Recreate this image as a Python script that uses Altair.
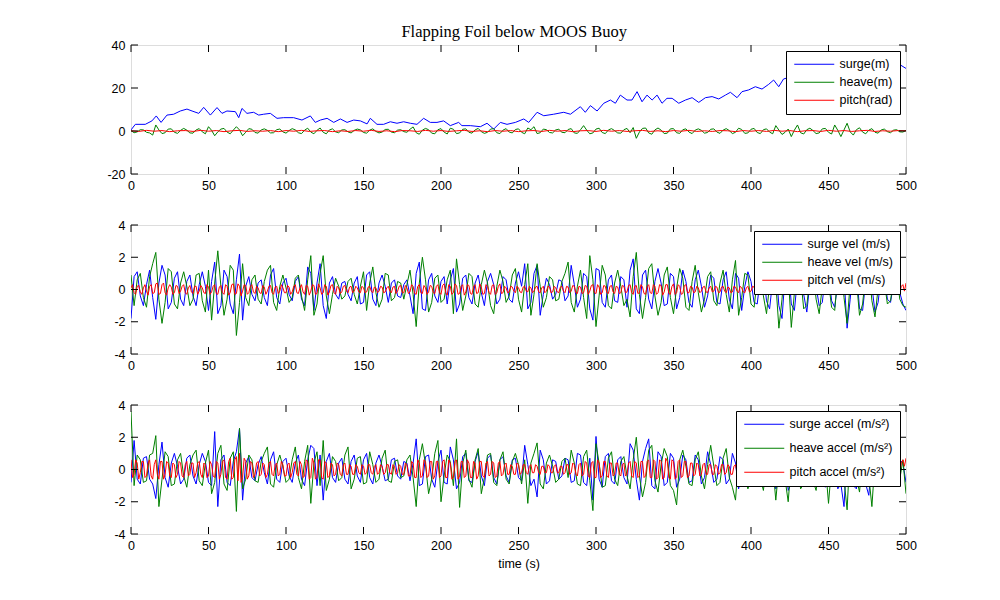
import altair as alt
import pandas as pd

# ---------------- data ----------------
# Panel 1: surge position (m), irregular sample times
surge_t = [0, 2.8, 9.2, 13.5, 16.3, 19.4, 23.2, 27.5, 31.8, 36.1,
           39.4, 43.7, 46.9, 51.2, 55.5, 58.7, 61.9, 67.3, 69.5, 71.6,
           74.8, 79.1, 82.4, 85.6, 89.9, 94.2, 98.5, 104.9, 110.3, 115.7,
           118.9, 122.2, 126.5, 130.8, 135.1, 139.4, 143.7, 148.0, 152.3, 154.4,
           158.7, 163.0, 167.3, 171.6, 175.9, 180.2, 184.5, 188.8, 193.1, 197.4,
           201.7, 206.0, 211.4, 213.5, 218.9, 225.4, 229.7, 234.0, 238.3, 242.6,
           248.0, 253.4, 256.6, 262.0, 266.3, 272.7, 279.2, 283.5, 289.9, 293.1,
           296.4, 300.7, 305.0, 309.3, 312.5, 315.7, 320.0, 323.2, 326.5, 329.7,
           332.9, 336.2, 339.4, 342.6, 345.8, 349.1, 353.4, 357.7, 362.0, 366.3,
           370.6, 374.9, 379.2, 383.5, 386.7, 391.0, 394.2, 398.5, 402.8, 407.1,
           411.4, 414.6, 417.9, 421.0, 425, 430, 435, 440, 445, 450,
           455, 460, 465, 470, 475, 480, 485, 490, 496.4, 500]
surge_m = [0.5, 3.1, 3.1, 4.7, 7.0, 4.0, 7.4, 7.8, 9.3, 10.2,
           9.3, 8.2, 11.0, 7.4, 10.9, 8.2, 9.3, 9.0, 6.2, 10.5,
           8.2, 8.7, 7.4, 7.8, 8.2, 5.9, 6.2, 6.2, 5.1, 7.0,
           4.0, 5.1, 5.9, 4.0, 5.6, 4.0, 5.1, 4.7, 3.3, 5.9,
           3.1, 3.1, 4.3, 3.6, 4.3, 3.6, 3.1, 5.9, 4.0, 4.0,
           4.7, 2.5, 4.0, 2.5, 2.5, 2.0, 3.6, 0.9, 4.0, 3.1,
           4.0, 5.6, 4.0, 8.7, 7.1, 7.8, 8.7, 7.8, 11.3, 8.7,
           11.8, 9.3, 12.9, 14.4, 12.9, 16.7, 14.4, 14.4, 18.3, 13.6,
           16.7, 14.4, 16.7, 12.9, 15.2, 15.2, 12.9, 14.4, 15.5, 13.3,
           15.5, 16.0, 14.9, 16.7, 18.0, 15.5, 18.3, 19.1, 20.6, 19.5,
           21.7, 23.7, 20.6, 24.2, 25.0, 24.0, 26.5, 25.5, 27.0, 26.0,
           28.0, 27.0, 28.5, 28.0, 30.0, 29.0, 30.5, 30.0, 30.7, 29.1]

# heave position (m), one value every 2 s from t=0
heave_m = [0.2, -0.8, -0.4, 0.6, 0.5, -0.6, -0.9, -1.9, 2.8, 0.5,
           -1.2, -0.8, 0.9, 1.0, -0.6, -1.1, 0.3, 1.2, 0.4, -0.9,
           -1.0, 0.5, 1.1, -0.4, -1.3, 2.0, 0.3, -2.2, -0.4, 0.9,
           1.2, -0.5, -1.3, 0.4, 2.0, 0.5, -2.2, -0.6, 1.1, 0.8,
           -0.7, -1.0, 0.5, 1.0, 0.3, -0.9, -0.8, 0.6, 0.9, -0.4,
           -1.0, 0.2, 1.1, 0.5, -0.8, -1.2, 0.4, 1.3, -0.5, -1.3,
           0.3, 1.4, -0.6, -1.3, 0.5, 1.0, -0.4, -0.8, 0.5, 0.6,
           -0.4, -0.9, 0.3, 0.9, 0.5, -0.7, -1.0, 0.4, 1.0, -0.2,
           -0.9, -0.5, 0.7, 0.8, -0.5, -0.8, 0.4, 0.6, -0.3, -0.6,
           0.8, 1.9, -0.8, -1.5, 0.4, 1.2, 0.6, -1.0, -1.3, 0.6,
           1.1, -0.5, -1.4, 1.3, 0.8, -1.2, -0.9, 0.8, 1.0, -0.6,
           -1.0, 0.5, 1.2, -0.3, -1.1, -0.6, 0.9, 1.1, -0.8, -1.2,
           0.4, 1.1, -0.5, -0.9, 0.7, 1.0, -0.6, -1.3, 1.4, 0.6,
           2.0, -1.2, -0.8, 0.9, 0.6, -0.7, -0.9, 0.5, 0.8, -0.6,
           -0.8, 0.7, 1.1, -0.9, -1.1, 0.6, 2.5, 0.4, -1.3, -0.9,
           0.9, 1.3, -0.7, -1.2, 0.5, 1.1, 0.2, -0.9, -1.0, 0.6,
           1.2, -0.8, 1.6, -3.4, -0.5, 1.2, 1.4, -0.9, -1.5, 0.5,
           1.4, 0.4, -1.2, -1.0, 1.0, 1.1, -0.8, -1.1, 0.6, 1.0,
           -0.5, -1.2, 0.4, 1.0, 0.3, -1.0, -0.7, 0.8, 1.0, -0.5,
           -1.1, 0.4, 1.1, 0.2, -1.2, -0.6, 1.3, 0.7, -1.1, -0.9,
           0.8, 1.2, -0.7, -1.2, 0.6, 1.0, -0.5, -1.3, 2.5, 0.4,
           -1.6, -0.6, 0.9, -2.6, 0.4, 2.8, -0.8, -1.4, 0.6, 1.3,
           0.2, -1.2, -0.9, 1.0, 1.2, -0.6, -1.4, 2.8, 0.3, -2.6,
           0.5, 3.6, -0.4, -1.9, 0.6, 1.5, -0.5, -1.3, 0.4, 1.1,
           -0.6, -1.0, 0.5, 0.9, -0.3, -0.8, 0.4, 0.6, -0.4, -0.5,
           0.3]

# pitch (rad), one value every 5 s
pitch_rad = [0.1, -0.2, 0.3, -0.1, 0.2, -0.3, 0.1, 0.2, -0.2, 0.3,
             -0.1, 0.2, -0.3, 0.1, 0.3, -0.2, 0.1, -0.1, 0.2, -0.3,
             0.2, -0.1, 0.3, -0.2, 0.1, 0.2, -0.3, 0.1, -0.2, 0.2,
             -0.1, 0.3, -0.2, 0.1, -0.3, 0.2, 0.1, -0.2, 0.3, -0.1,
             0.2, -0.2, 0.1, 0.3, -0.2, 0.1, -0.3, 0.2, -0.1, 0.2,
             -0.3, 0.1, 0.2, -0.2, 0.3, -0.1, 0.2, -0.3, 0.1, 0.2,
             -0.2, 0.3, -0.1, 0.2, -0.2, 0.1, 0.3, -0.2, 0.1, -0.3,
             0.2, -0.1, 0.3, -0.2, 0.1, -0.2, 0.2, 0.1, -0.3, 0.2,
             -0.1, 0.2, -0.2, 0.3, -0.1, 0.2, -0.3, 0.1, 0.2, -0.2,
             0.3, -0.1, 0.2, -0.2, 0.1, 0.3, -0.2, 0.1, -0.1, 0.2,
             0.1]

# Panel 2: velocities, every 2 s (surge, heave) and every 1 s (pitch)
surge_vel = [-1.8, 0.8, 1.1, -0.4, -1.0, 0.3, 1.2, -0.5, -1.85, 0.4,
             1.5, 0.9, -1.2, -0.8, 0.7, 1.1, -0.6, -1.0, 0.5, 0.9,
             -0.4, -1.0, 0.3, 1.1, 0.2, -1.3, 0.5, 1.7, -1.5, -1.0,
             1.2, 0.8, -0.9, -1.5, 0.6, 2.2, -1.9, 0.2, 0.8, -0.3,
             -0.7, 0.4, 0.6, -0.5, -1.0, 0.9, 1.3, -0.5, -0.9, 0.4,
             0.7, -0.3, -0.7, 0.5, 0.8, -0.6, -1.0, 1.4, 1.0, -1.3,
             0.4, 1.6, -1.0, -1.8, 0.4, 0.8, -0.3, -0.6, 0.4, 0.5,
             -0.3, -0.7, 0.4, 0.8, -0.9, -0.8, 0.9, 1.1, -0.6, -1.0,
             0.4, 0.9, 0.2, -0.8, 0.4, 0.6, -0.4, -0.5, 0.3, 0.6,
             -0.4, -1.5, 1.0, 1.7, -1.2, -1.3, 0.6, 1.0, -0.4, -0.8,
             0.5, 0.8, -0.9, 0.6, 1.3, -1.4, -0.9, 0.7, 0.9, -0.5,
             -0.9, 0.4, 0.9, -0.2, -1.0, 0.5, 1.0, 0.3, -0.9, -0.6,
             0.8, 0.6, -0.6, -0.8, 0.4, 1.1, 0.2, 1.6, -1.2, -0.8,
             1.0, 1.5, -1.6, -0.3, 0.7, 0.3, -0.6, -0.3, 0.6, 0.5,
             -0.7, -0.4, 1.5, 0.3, -1.1, -0.6, 1.0, 0.8, -1.2, -1.9,
             1.3, 1.2, -0.8, -1.1, 0.6, 0.9, -0.7, -0.8, 0.8, 0.6,
             -1.1, 1.2, 1.9, -1.2, -1.5, 0.9, 1.2, -0.6, -1.2, 0.5,
             1.3, 0.4, -1.0, -0.9, 1.0, 0.8, -1.2, -0.5, 1.2, 0.5,
             -0.8, -1.1, 0.6, 1.2, 0.2, -1.1, -0.4, 0.9, 0.7, -0.8,
             -0.9, 0.6, 1.1, -0.6, -1.2, 1.0, 0.7, -1.3, 0.2, 1.1,
             0.5, -0.8, -0.9, 0.7, 1.2, -0.7, -1.2, 0.6, 1.4, -1.0,
             -1.8, 0.9, 1.6, -0.9, -1.3, 0.7, 1.2, -0.3, -1.4, 0.4,
             1.1, 0.2, -1.0, -0.8, 0.9, 1.1, -0.7, -1.1, 0.5, 1.6,
             0.8, -2.4, -0.6, 1.5, 1.3, -1.2, -1.3, 0.5, 1.1, 0.2,
             -1.4, -0.8, 0.9, 0.8, -0.6, -0.8, 0.4, 0.7, -0.2, -0.9,
             -1.3]

heave_vel = [0.9, -1.0, 0.6, 1.0, -0.5, -1.1, 0.8, 1.6, 2.3, -0.6,
             -2.1, -0.8, 1.3, 1.1, -0.9, -1.2, 0.4, 1.1, 0.2, -1.0,
             -0.6, 0.9, 1.0, -0.7, -1.4, 1.2, -1.9, 0.4, 2.4, 0.2,
             -1.6, -0.6, 1.5, 1.2, -2.85, -0.8, 1.6, -0.5, -1.0, 0.6,
             0.9, -0.6, -0.9, 0.5, 1.2, 1.5, -0.8, -1.3, 0.2, 0.9,
             0.1, -0.8, -0.5, 0.7, 0.9, -0.4, -1.3, 0.6, 2.1, -1.6,
             -0.9, 1.0, 2.1, -0.4, -1.5, -0.3, 0.7, 0.2, -0.6, -0.4,
             0.5, 0.7, -0.3, -0.9, 0.2, 1.1, -1.3, 0.4, 1.4, -0.2,
             -1.1, -0.6, 1.0, 0.9, -0.7, -0.5, 0.5, 0.4, -0.6, 0.3,
             1.2, -0.3, -2.3, 0.4, 2.0, 0.6, -1.4, -0.8, 0.7, 0.9,
             -0.8, -0.6, 0.6, 1.2, -1.5, 1.9, 0.3, -1.3, -0.4, 1.0,
             0.8, -0.9, -1.1, 0.3, 1.2, 0.4, -1.0, -1.5, 0.2, 1.2,
             0.5, -0.8, -0.4, 0.9, 1.3, -0.6, -1.4, 0.3, 1.6, -1.6,
             -0.3, 1.6, 0.2, -1.1, -0.5, 0.8, 0.6, -0.7, -0.6, 0.5,
             1.0, 1.7, -0.8, -1.4, 0.2, 1.2, -0.5, -1.8, 2.1, 0.6,
             -2.3, -0.4, 1.5, 0.9, -1.0, -1.2, 0.4, 1.2, 0.2, -1.0,
             -0.6, -1.7, 0.8, 2.3, -0.3, -1.8, -0.5, 1.3, 1.6, -0.4,
             -1.6, -0.8, 0.9, 1.4, -0.5, -1.5, 0.1, 1.3, 0.7, -1.1,
             -1.3, 0.5, 1.5, -0.2, -1.4, -0.6, 0.8, 1.1, -0.7, -1.0,
             0.4, 1.2, -0.3, -1.4, 0.6, 1.8, -1.6, -0.5, 1.0, 0.9,
             -0.9, -1.1, 0.6, 1.3, -0.4, -1.5, 0.3, 1.9, 0.4, -2.4,
             -0.6, 1.8, 1.0, -2.35, -0.2, 1.6, 0.8, -1.2, -1.0, 0.8,
             1.3, -0.6, -1.5, 0.2, 1.4, 0.5, -1.1, -1.3, 0.9, 1.9,
             -0.5, -2.1, 0.4, 2.0, 0.6, -1.6, -0.9, 1.0, 1.4, -0.7,
             -1.7, 0.1, 1.2, 0.5, -0.9, -0.7, 0.6, 0.9, -0.6, -1.0,
             -1.1]

pitch_vel = [0.1, 0.3, -0.2, -0.3, 0.2, 0.25, -0.15, -0.3, 0.1, 0.3, -0.1, -0.35, 0.2, 0.3, -0.25, -0.2, 0.35, 0.4, -0.3, -0.25,
             0.3, 0.4, -0.2, -0.35, 0.1, 0.3, 0.15, -0.3, -0.2, 0.25, 0.2, -0.25, -0.1, 0.2, 0.3, -0.2, -0.3, 0.1, 0.25, -0.15,
             -0.25, 0.2, 0.2, -0.3, -0.1, 0.25, 0.1, -0.2, -0.25, 0.3, 0.15, -0.3, -0.15, 0.2, 0.3, -0.25, -0.3, 0.15, 0.25, -0.2,
             -0.3, 0.3, 0.2, -0.35, -0.2, 0.3, 0.35, -0.3, -0.25, 0.35, 0.2, -0.4, -0.1, 0.3, 0.25, -0.3, -0.2, 0.2, 0.3, -0.15,
             -0.25, 0.2, 0.1, -0.2, -0.25, 0.25, 0.15, -0.3, -0.1, 0.2, 0.25, -0.2, -0.3, 0.15, 0.2, -0.25, -0.1, 0.3, 0.1, -0.2,
             -0.2, 0.25, 0.15, -0.3, -0.15, 0.2, 0.3, -0.2, -0.25, 0.1, 0.3, -0.15, -0.3, 0.25, 0.2, -0.35, -0.1, 0.3, 0.25, -0.3,
             -0.25, 0.35, 0.1, -0.3, -0.2, 0.3, 0.2, -0.35, -0.15, 0.25, 0.3, -0.2, -0.3, 0.2, 0.1, -0.25, -0.15, 0.2, 0.25, -0.1,
             -0.2, 0.15, 0.2, -0.2, -0.1, 0.2, 0.1, -0.15, -0.2, 0.2, 0.1, -0.2, -0.15, 0.15, 0.2, -0.1, -0.2, 0.15, 0.1, -0.2,
             -0.1, 0.2, 0.15, -0.2, -0.15, 0.1, 0.2, -0.1, -0.2, 0.15, 0.2, -0.25, -0.1, 0.2, 0.25, -0.2, -0.2, 0.25, 0.1, -0.25,
             -0.15, 0.3, 0.2, -0.25, -0.3, 0.2, 0.3, -0.2, -0.25, 0.25, 0.1, -0.3, -0.15, 0.25, 0.2, -0.2, -0.25, 0.2, 0.3, -0.2,
             -0.3, 0.25, 0.35, -0.2, -0.35, 0.3, 0.2, -0.3, -0.2, 0.35, 0.25, -0.3, -0.25, 0.2, 0.3, -0.35, -0.15, 0.3, 0.25, -0.25,
             -0.3, 0.2, 0.3, -0.25, -0.2, 0.35, 0.15, -0.3, -0.25, 0.3, 0.2, -0.2, -0.3, 0.25, 0.3, -0.3, -0.2, 0.2, 0.35, -0.25,
             -0.2, 0.2, 0.1, -0.2, -0.15, 0.2, 0.15, -0.1, -0.2, 0.2, 0.1, -0.15, -0.2, 0.15, 0.2, -0.1, -0.15, 0.2, 0.1, -0.2,
             -0.1, 0.15, 0.2, -0.15, -0.2, 0.1, 0.2, -0.2, -0.1, 0.2, 0.15, -0.2, -0.15, 0.2, 0.1, -0.15, -0.2, 0.15, 0.2, -0.1,
             -0.2, 0.2, 0.15, -0.2, -0.1, 0.25, 0.2, -0.2, -0.25, 0.2, 0.15, -0.25, -0.2, 0.25, 0.2, -0.3, -0.1, 0.25, 0.3, -0.2,
             -0.25, 0.3, 0.15, -0.3, -0.2, 0.25, 0.2, -0.2, -0.25, 0.2, 0.25, -0.15, -0.25, 0.2, 0.15, -0.25, -0.2, 0.25, 0.2, -0.2,
             -0.15, 0.25, 0.3, -0.2, -0.3, 0.2, 0.25, -0.25, -0.2, 0.3, 0.15, -0.25, -0.3, 0.2, 0.3, -0.2, -0.25, 0.3, 0.2, -0.3,
             -0.2, 0.3, 0.25, -0.35, -0.15, 0.3, 0.3, -0.25, -0.3, 0.2, 0.35, -0.3, -0.2, 0.3, 0.2, -0.3, -0.25, 0.25, 0.3, -0.2,
             -0.2, 0.2, 0.15, -0.2, -0.15, 0.2, 0.1, -0.2, -0.1, 0.15, 0.2, -0.15, -0.2, 0.1, 0.2, -0.15, -0.1, 0.2, 0.15, -0.2,
             -0.15, 0.15, 0.2, -0.1, -0.2, 0.15, 0.1, -0.2, -0.15, 0.2, 0.15, -0.1, -0.2, 0.2, 0.1, -0.15, -0.2, 0.1, 0.2, -0.15,
             -0.1, 0.2, 0.15, -0.2, -0.15, 0.15, 0.2, -0.1, -0.2, 0.15, 0.1, -0.2, -0.1, 0.2, 0.15, -0.15, -0.2, 0.2, 0.1, -0.2,
             -0.2, 0.25, 0.2, -0.25, -0.15, 0.2, 0.25, -0.2, -0.25, 0.2, 0.15, -0.25, -0.2, 0.25, 0.2, -0.2, -0.25, 0.15, 0.25, -0.2,
             -0.2, 0.25, 0.15, -0.25, -0.2, 0.2, 0.25, -0.2, -0.15, 0.25, 0.2, -0.25, -0.2, 0.3, 0.2, -0.2, -0.25, 0.35, 0.2, -0.2,
             -0.2, 0.2, 0.15, -0.2, -0.15, 0.2, 0.1, -0.2, -0.15, 0.2, 0.15, -0.1, -0.2, 0.15, 0.2, -0.15, -0.1, 0.2, 0.1, -0.2,
             -0.15, 0.15, 0.2, -0.15, -0.2, 0.1, 0.2, -0.1, -0.2, 0.15, 0.1, -0.2, -0.1, 0.2, 0.15, -0.2, -0.15, 0.2, 0.3, -0.1,
             0.4]

# Panel 3: accelerations, every 2 s (surge, heave) and every 1 s (pitch)
surge_acc = [-0.8, 1.8, -0.6, -0.9, 0.7, 0.8, -0.6, -0.9, -1.8, 0.3,
             1.7, -0.5, -1.1, 0.4, 1.0, 0.2, -0.9, -0.6, 0.7, 0.9,
             -0.4, -0.9, 0.3, 1.0, 0.5, -0.8, -1.0, 2.35, -2.3, 0.6,
             0.9, -0.8, -1.0, 0.5, 1.1, 2.55, -1.9, 0.4, 0.8, -0.5,
             -0.7, 0.3, 0.8, -0.2, -0.9, 0.6, 1.1, -0.6, -0.8, 0.5,
             0.7, -0.4, -0.8, 0.4, 0.9, -0.6, -1.0, 0.6, 1.5, 1.3,
             -1.0, 0.9, -1.9, 0.5, 1.0, -0.5, -0.8, 0.4, 0.7, -0.6,
             -0.9, 0.5, 0.9, -0.4, -0.8, 0.6, 1.0, -0.5, -0.9, 0.4,
             0.9, 0.2, -0.7, -0.6, 0.6, 0.7, -0.4, -0.6, 0.5, 0.4,
             -0.7, 0.4, 1.9, -1.0, -0.9, 0.8, 0.9, -0.6, -1.1, 0.5,
             1.2, -0.8, -0.9, 1.4, 0.6, -1.2, -0.8, 0.8, 1.0, -0.7,
             -0.8, 0.5, 1.1, -0.4, -1.0, 0.7, 0.9, -0.5, -0.9, 0.6,
             0.8, -0.4, -0.8, 0.6, 0.7, -0.5, -0.7, 1.5, 0.3, -1.0,
             -0.6, -1.7, 1.2, 0.6, -0.9, -0.7, 0.6, 0.5, -0.6, -0.4,
             0.7, 0.6, -0.8, -0.7, 1.0, 0.9, -0.8, -1.0, 0.7, -1.9,
             2.05, -0.6, -1.1, 0.8, 1.0, -0.7, -0.9, 0.6, 0.8, -0.5,
             -0.9, 1.6, 1.2, -0.6, -1.9, 0.5, 1.3, 1.9, -1.0, -1.2,
             1.1, 0.8, -1.0, -0.8, 1.0, 0.7, -1.1, -0.6, 0.9, 0.6,
             -0.8, -0.7, 0.9, 0.6, -0.9, -0.5, 1.1, 0.3, -0.8, -0.6,
             0.8, 0.6, -0.9, -0.6, 1.0, 0.4, -1.2, -0.3, 0.9, 0.7,
             -0.9, -0.6, 0.8, 0.6, -1.0, -0.5, 0.9, 0.7, -1.2, -0.6,
             0.9, 1.0, -1.3, -0.8, 0.8, 0.9, -1.0, -0.6, 0.7, 0.8,
             -0.9, -0.5, 0.8, 0.6, -1.1, -0.7, 0.9, 0.8, -1.2, -0.9,
             -2.3, 1.1, 0.9, -1.0, -1.2, 0.8, 0.9, -0.9, -1.6, 0.6,
             0.9, -0.7, -0.9, 0.6, 0.7, -0.6, -0.8, 0.4, 0.6, 0.4,
             -0.8]

heave_acc = [3.6, -1.0, 0.9, 0.6, -0.8, -0.7, 0.9, 1.0, 2.1, -2.3,
             -0.6, 1.1, 0.8, -1.0, -0.9, 0.6, 1.0, -0.4, -1.1, 0.3,
             0.9, 1.2, -0.7, -1.0, 0.4, 1.2, -1.5, -0.8, 1.0, 1.5,
             -0.9, -1.3, 0.7, 1.1, -2.6, 2.55, -1.2, -0.6, 0.9, 0.6,
             -0.7, -0.8, 0.5, 1.0, 1.4, -0.9, -1.1, 0.3, 0.9, 0.2,
             -0.8, -0.6, 0.6, 1.4, -0.5, -1.2, 0.5, 1.5, -2.1, 0.4,
             1.1, -1.0, 1.8, -1.3, -0.6, 0.8, 0.5, -0.7, -0.5, 0.9,
             1.4, -1.2, -0.6, 0.7, 0.8, -0.9, -0.8, 1.1, 0.3, -0.8,
             -0.6, 0.7, 1.2, -0.7, -0.8, 0.5, 0.6, -0.5, -0.4, 0.6,
             0.9, -0.5, -2.3, 0.6, 1.6, 0.3, -1.5, -0.6, 1.0, 1.8,
             -2.0, -0.4, 0.9, 0.5, -1.0, 1.9, -2.35, 0.4, 1.2, -0.6,
             -1.1, 0.6, 1.3, -1.5, -0.5, 0.9, 1.0, -0.8, -1.0, 0.6,
             1.1, -0.6, -0.9, 0.5, 1.0, 0.3, -0.9, 0.6, -2.1, 0.4,
             1.0, 1.65, -0.9, -1.2, 0.4, 0.9, 0.2, -0.8, -0.6, 0.5,
             0.7, -0.5, 1.2, 0.4, -0.9, -1.0, 0.8, 1.2, -0.7, -2.55,
             1.6, 0.4, -1.1, -1.0, 0.7, 1.1, -0.6, -1.0, 0.5, 0.8,
             -0.4, -1.2, 0.6, 2.0, -0.4, -1.7, -0.8, 1.2, 1.5, -0.7,
             -1.4, 0.3, 1.3, 0.8, -1.0, -1.3, -2.2, 0.6, 1.2, 0.2,
             -0.9, -1.0, 0.6, 1.1, -0.4, -1.2, 0.3, 1.5, 0.2, -1.0,
             -0.8, 0.7, 1.3, -0.5, -1.1, -1.9, 0.8, 1.2, -0.3, -1.2,
             -0.6, 0.9, 1.2, -0.5, -1.3, 0.4, 1.4, 0.3, -1.9, 0.2,
             1.5, -0.6, -2.0, 0.5, 1.4, 0.6, -1.2, -0.9, 0.8, 1.0,
             -0.7, -1.3, 0.5, 1.3, 0.3, -2.1, 0.2, 1.2, 0.8, -1.0,
             -0.6, -2.5, 1.3, 1.6, -0.5, -1.4, 0.7, 1.2, -0.4, -2.3,
             0.6, 1.2, 0.3, -1.0, -0.8, 0.7, 0.9, -0.5, -0.6, 0.6,
             -1.5]

pitch_acc = [0.6, -0.5, -0.3, 0.6, 0.4, -0.6, -0.2, 0.5, 0.5, -0.5, -0.4, 0.4, 0.6, -0.4, -0.6, 0.3, 0.6, -0.3, -0.6, 0.5,
             0.5, -0.6, -0.3, 0.5, 0.4, -0.4, -0.5, 0.4, 0.3, -0.5, -0.3, 0.5, 0.4, -0.4, -0.5, 0.3, 0.5, -0.4, -0.3, 0.4,
             0.4, -0.5, -0.2, 0.4, 0.5, -0.3, -0.5, 0.4, 0.3, -0.5, -0.4, 0.5, 0.3, -0.4, -0.5, 0.5, 0.4, -0.6, -0.3, 0.5,
             0.6, -0.5, -0.6, 0.5, 0.7, -0.6, -0.5, 0.6, 0.8, -0.7, 1.0, -0.8, -0.5, 0.7, 0.5, -0.6, -0.4, 0.5, 0.4, -0.5,
             -0.3, 0.4, 0.5, -0.4, -0.3, 0.4, 0.3, -0.5, -0.3, 0.4, 0.5, -0.3, -0.4, 0.3, 0.4, -0.4, -0.3, 0.5, 0.3, -0.4,
             -0.4, 0.3, 0.4, -0.5, -0.2, 0.4, 0.5, -0.3, -0.4, 0.5, 0.3, -0.5, -0.4, 0.6, 0.5, -0.6, -0.5, 0.7, 0.4, -0.6,
             -0.5, 0.6, 0.6, -0.5, -0.6, 0.5, 0.4, -0.5, -0.4, 0.4, 0.3, -0.4, -0.3, 0.4, 0.3, -0.3, -0.4, 0.3, 0.4, -0.3,
             -0.3, 0.3, 0.2, -0.3, -0.3, 0.3, 0.2, -0.2, -0.3, 0.3, 0.2, -0.3, -0.2, 0.3, 0.3, -0.2, -0.3, 0.2, 0.3, -0.3,
             -0.2, 0.3, 0.2, -0.3, -0.2, 0.3, 0.3, -0.2, -0.3, 0.3, 0.2, -0.3, -0.2, 0.3, 0.2, -0.3, -0.3, 0.4, 0.3, -0.4,
             -0.4, 0.5, 0.4, -0.5, -0.5, 0.6, 0.4, -0.5, -0.4, 0.6, 0.5, -0.5, -0.4, 0.5, 0.5, -0.6, -0.4, 0.5, 0.5, -0.5,
             -0.4, 0.5, 0.6, -0.5, -0.5, 0.6, 0.4, -0.6, -0.5, 0.5, 0.6, -0.6, -0.4, 0.5, 0.5, -0.5, -0.4, 0.6, 0.4, -0.5,
             -0.5, 0.5, 0.4, -0.6, -0.4, 0.5, 0.5, -0.4, -0.5, 0.4, 0.5, -0.4, -0.3, 0.5, 0.4, -0.5, -0.4, 0.4, 0.5, -0.4,
             -0.3, 0.3, 0.4, -0.3, -0.3, 0.3, 0.2, -0.3, -0.3, 0.4, 0.3, -0.3, -0.2, 0.3, 0.3, -0.2, -0.3, 0.2, 0.3, -0.2,
             -0.2, 0.3, 0.2, -0.2, -0.3, 0.2, 0.2, -0.2, -0.2, 0.3, 0.2, -0.2, -0.2, 0.2, 0.3, -0.2, -0.2, 0.2, 0.2, -0.3,
             -0.2, 0.3, 0.3, -0.3, -0.2, 0.4, 0.3, -0.3, -0.4, 0.3, 0.4, -0.4, -0.3, 0.5, 0.4, -0.4, -0.5, 0.4, 0.5, -0.5,
             -0.5, 0.6, 0.4, -0.5, -0.4, 0.5, 0.5, -0.4, -0.5, 0.4, 0.4, -0.4, -0.3, 0.4, 0.4, -0.3, -0.4, 0.3, 0.4, -0.4,
             -0.3, 0.4, 0.5, -0.4, -0.5, 0.5, 0.4, -0.5, -0.4, 0.5, 0.5, -0.5, -0.4, 0.5, 0.6, -0.5, -0.5, 0.6, 0.5, -0.6,
             -0.5, 0.6, 0.5, -0.6, -0.5, 0.7, 0.5, -0.5, -0.6, 0.6, 0.5, -0.6, -0.5, 0.5, 0.6, -0.5, -0.4, 0.5, 0.5, -0.5,
             -0.4, 0.4, 0.4, -0.4, -0.3, 0.4, 0.3, -0.4, -0.3, 0.3, 0.4, -0.3, -0.3, 0.3, 0.3, -0.3, -0.3, 0.3, 0.2, -0.3,
             -0.2, 0.3, 0.3, -0.3, -0.2, 0.3, 0.2, -0.3, -0.3, 0.2, 0.3, -0.2, -0.3, 0.3, 0.2, -0.3, -0.2, 0.3, 0.3, -0.2,
             -0.3, 0.3, 0.2, -0.3, -0.2, 0.3, 0.3, -0.3, -0.2, 0.3, 0.2, -0.3, -0.3, 0.3, 0.3, -0.2, -0.3, 0.3, 0.2, -0.3,
             -0.3, 0.4, 0.3, -0.4, -0.3, 0.3, 0.4, -0.3, -0.4, 0.3, 0.3, -0.4, -0.3, 0.4, 0.3, -0.3, -0.4, 0.3, 0.4, -0.3,
             -0.3, 0.4, 0.3, -0.3, -0.4, 0.3, 0.3, -0.4, -0.3, 0.4, 0.3, -0.3, -0.4, 0.4, 0.3, -0.4, -0.3, 0.4, 0.4, -0.3,
             -0.4, 0.3, 0.4, -0.3, -0.3, 0.4, 0.3, -0.3, -0.3, 0.3, 0.3, -0.3, -0.2, 0.3, 0.3, -0.3, -0.3, 0.2, 0.3, -0.3,
             -0.2, 0.3, 0.3, -0.2, -0.3, 0.3, 0.2, -0.3, -0.2, 0.3, 0.3, -0.2, -0.3, 0.2, 0.3, -0.3, -0.2, 0.4, 0.6, 0.2,
             0.7]

x_tick_values = [0, 50, 100, 150, 200, 250, 300, 350, 400, 450, 500]
y_ticks_pos = [-20, 0, 20, 40]
y_ticks_small = [-4, -2, 0, 2, 4]

names1 = ["surge(m)", "heave(m)", "pitch(rad)"]
names2 = ["surge vel (m/s)", "heave vel (m/s)", "pitch vel (m/s)"]
names3 = ["surge accel (m/s\u00b2)", "heave accel (m/s\u00b2)", "pitch accel (m/s\u00b2)"]
COLORS = ["#0000ff", "#008000", "#ff0000"]


def frame(name, values, step=None, times=None):
    if times is None:
        times = [i * step for i in range(len(values))]
    return pd.DataFrame({"t": times, "v": values, "s": name})


df1 = pd.concat([frame(names1[0], surge_m, times=surge_t),
                 frame(names1[1], heave_m, step=2),
                 frame(names1[2], pitch_rad, step=5)], ignore_index=True)
df2 = pd.concat([frame(names2[0], surge_vel, step=2),
                 frame(names2[1], heave_vel, step=2),
                 frame(names2[2], pitch_vel, step=1)], ignore_index=True)
df3 = pd.concat([frame(names3[0], surge_acc, step=2),
                 frame(names3[1], heave_acc, step=2),
                 frame(names3[2], pitch_acc, step=1)], ignore_index=True)

W, H = 775, 129
TICK = 7
SANS = "Liberation Sans"
FS = 12.5


def panel(df, names, ydom, yticks, xtitle=None, row_pad=5):
    xscale = alt.Scale(domain=[0, 500], nice=False, zero=False)
    yscale = alt.Scale(domain=ydom, nice=False, zero=False)
    xaxis = alt.Axis(values=x_tick_values, labelExpr="'' + datum.value", ticks=False, domain=False,
                     grid=False, labelPadding=5, labelFont=SANS, labelFontSize=FS, labelColor="black",
                     labelFlush=False, labelOverlap=False, minExtent=20, maxExtent=20,
                     title=xtitle, titleFont=SANS, titleFontSize=FS, titleFontWeight="normal",
                     titleColor="black", titlePadding=3)
    yaxis = alt.Axis(values=yticks, labelExpr="'' + datum.value", ticks=False, domain=False,
                     grid=False, labelPadding=6, labelFont=SANS, labelFontSize=FS, labelColor="black",
                     labelFlush=False, labelOverlap=False, minExtent=25, maxExtent=25, title=None)
    color = alt.Color("s:N", sort=names, scale=alt.Scale(domain=names, range=COLORS),
                      legend=alt.Legend(title=None, orient="top-right", offset=6,
                                        symbolType="M-1,0H7", symbolSize=100, symbolStrokeWidth=1,
                                        labelFont=SANS, labelFontSize=FS, labelColor="black",
                                        labelOffset=34, labelLimit=300, strokeColor="black",
                                        fillColor="white", padding=7, rowPadding=row_pad,
                                        cornerRadius=0))
    xt = pd.DataFrame({"v": x_tick_values})
    yt = pd.DataFrame({"v": yticks})
    xenc = alt.X("v:Q", scale=xscale, axis=xaxis)
    yenc = alt.Y("v:Q", scale=yscale, axis=yaxis)
    lines = alt.Chart(df).mark_line(strokeWidth=1, clip=True).encode(
        x=alt.X("t:Q", scale=xscale, axis=xaxis),
        y=alt.Y("v:Q", scale=yscale, axis=yaxis),
        color=color)
    layers = [
        lines,
        alt.Chart(xt).mark_rule(color="black", strokeWidth=1).encode(
            x=xenc, y=alt.value(H), y2=alt.value(H - TICK)),
        alt.Chart(xt).mark_rule(color="black", strokeWidth=1).encode(
            x=xenc, y=alt.value(0), y2=alt.value(TICK)),
        alt.Chart(yt).mark_rule(color="black", strokeWidth=1).encode(
            y=yenc, x=alt.value(0), x2=alt.value(TICK)),
        alt.Chart(yt).mark_rule(color="black", strokeWidth=1).encode(
            y=yenc, x=alt.value(W - TICK), x2=alt.value(W)),
    ]
    return alt.layer(*layers).properties(width=W, height=H)


p1 = panel(df1, names1, [-20, 40], y_ticks_pos)
p2 = panel(df2, names2, [-4, 4], y_ticks_small)
p3 = panel(df3, names3, [-4, 4], y_ticks_small, xtitle="time (s)", row_pad=11)

chart = alt.vconcat(p1, p2, p3, spacing=23).resolve_scale(
    color="independent").resolve_legend(color="independent").properties(
    title=alt.TitleParams("Flapping Foil below MOOS Buoy", font="Liberation Serif",
                          fontSize=16.5, fontWeight="normal", color="black",
                          offset=3, dy=5, dx=3, anchor="middle"),
    padding={"left": 97, "top": 16, "right": 10, "bottom": 5},
).configure_view(stroke="black", strokeWidth=1).configure(background="white")

chart.save("out.html", embed_options={"renderer": "svg", "actions": False})
